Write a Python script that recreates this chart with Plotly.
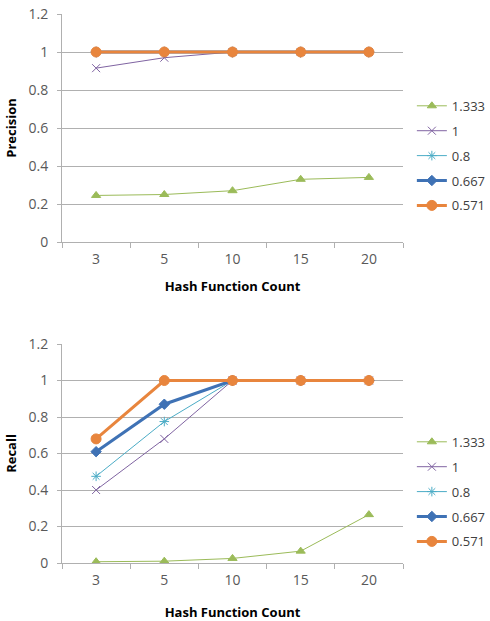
import plotly.graph_objects as go

categories = ["3", "5", "10", "15", "20"]
series_names = ["1.333", "1", "0.8", "0.667", "0.571"]

precision_1333 = [0.245, 0.25, 0.27, 0.33, 0.34]
precision_1 = [0.915, 0.97, 1.0, 1.0, 1.0]
precision_08 = [1.0, 1.0, 1.0, 1.0, 1.0]
precision_0667 = [1.0, 1.0, 1.0, 1.0, 1.0]
precision_0571 = [1.0, 1.0, 1.0, 1.0, 1.0]

recall_1333 = [0.007, 0.01, 0.025, 0.065, 0.265]
recall_1 = [0.40, 0.68, 1.0, 1.0, 1.0]
recall_08 = [0.475, 0.775, 1.0, 1.0, 1.0]
recall_0667 = [0.61, 0.87, 1.0, 1.0, 1.0]
recall_0571 = [0.68, 1.0, 1.0, 1.0, 1.0]

yticks = [0, 0.2, 0.4, 0.6, 0.8, 1, 1.2]
yticklabels = ["0", "0.2", "0.4", "0.6", "0.8", "1", "1.2"]

styles = [
    dict(color="#9BBB59", width=1, symbol="triangle-up", size=8),
    dict(color="#8064A2", width=1, symbol="x-thin-open", size=8),
    dict(color="#4BACC6", width=1, symbol="asterisk-open", size=8),
    dict(color="#3F72B5", width=3, symbol="diamond", size=8),
    dict(color="#E8853D", width=3, symbol="circle", size=10),
]

precision = [precision_1333, precision_1, precision_08, precision_0667, precision_0571]
recall = [recall_1333, recall_1, recall_08, recall_0667, recall_0571]

fig = go.Figure()
for i, (name, st) in enumerate(zip(series_names, styles)):
    for data, xa, ya, lg in [(precision[i], "x", "y", "legend"), (recall[i], "x2", "y2", "legend2")]:
        fig.add_trace(go.Scatter(
            x=categories, y=data, name=name, mode="lines+markers",
            xaxis=xa, yaxis=ya, legend=lg, legendgroup=lg + name,
            line=dict(color=st["color"], width=st["width"]),
            marker=dict(symbol=st["symbol"], size=st["size"], color=st["color"],
                        line=dict(color=st["color"], width=1)),
        ))

tickfont = dict(family="Open Sans, Noto Sans, sans-serif", size=14, color="#595959")
titlefont = dict(family="Open Sans, Noto Sans, sans-serif", size=13, color="#000000", weight="bold")

xcommon = dict(type="category", range=[-0.5, 4.5], tickson="boundaries", ticks="outside",
               ticklen=5, tickcolor="#B0B0B0", showline=True, linecolor="#B0B0B0",
               showgrid=False, tickfont=tickfont, fixedrange=True, automargin=False,
               ticklabelstandoff=4)
ycommon = dict(range=[0, 1.2], tickvals=yticks, ticktext=yticklabels,
               ticks="outside", ticklen=4, tickcolor="#B0B0B0", showline=True, linecolor="#B0B0B0",
               showgrid=True, gridcolor="#B0B0B0", gridwidth=1, tickfont=tickfont, zeroline=False,
               automargin=False, ticklabelstandoff=6)

legcommon = dict(font=dict(family="Open Sans, Noto Sans, sans-serif", size=13, color="#404040"),
                 traceorder="grouped", tracegroupgap=5, bgcolor="rgba(0,0,0,0)",
                 xanchor="left", yanchor="top", itemwidth=30)

fig.update_layout(
    width=490, height=621,
    margin=dict(l=62, r=87, t=14, b=58, autoexpand=False),
    paper_bgcolor="white", plot_bgcolor="white",
    xaxis=dict(domain=[0, 1], anchor="y", title=dict(text="Hash Function Count", font=titlefont, standoff=15), **xcommon),
    yaxis=dict(domain=[0.5847, 1], anchor="x", title=dict(text="Precision", font=titlefont, standoff=8), **ycommon),
    xaxis2=dict(domain=[0, 1], anchor="y2", title=dict(text="Hash Function Count", font=titlefont, standoff=22), **xcommon),
    yaxis2=dict(domain=[0, 0.3989], anchor="x2", title=dict(text="Recall", font=titlefont, standoff=8), **ycommon),
    legend=dict(x=1.026, y=0.86, **legcommon),
    legend2=dict(x=1.026, y=0.248, **legcommon),
    showlegend=True,
)

fig.write_html("out.html")
